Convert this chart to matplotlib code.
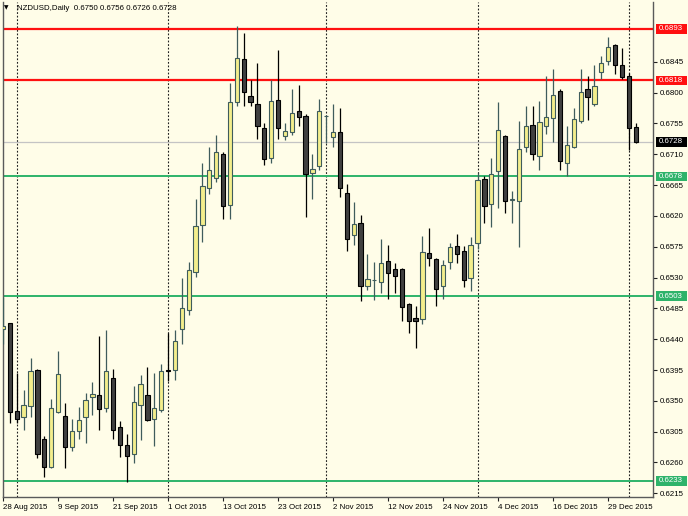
import matplotlib
matplotlib.use('Agg')
import matplotlib.pyplot as plt
from matplotlib.patches import Rectangle

# ---------------- data ----------------
opens = [0.6455, 0.6463, 0.6335, 0.6326, 0.6343, 0.6395, 0.6295, 0.6253, 0.6333, 0.6328,
         0.6283, 0.6306, 0.6327, 0.6356, 0.6358, 0.6339, 0.6383, 0.6312, 0.6286, 0.6273,
         0.6344, 0.6358, 0.6323, 0.6336, 0.6395, 0.6395, 0.6455, 0.6482, 0.6538, 0.6607,
         0.6661, 0.6675, 0.6711, 0.6636, 0.6786, 0.6849, 0.6795, 0.6784, 0.6749, 0.6704,
         0.6790, 0.6737, 0.6743, 0.6773, 0.6766, 0.6682, 0.6693, 0.6766, 0.6736, 0.6743,
         0.6653, 0.6592, 0.6609, 0.6517, 0.6526, 0.6523, 0.6554, 0.6542, 0.6543, 0.6491,
         0.6471, 0.6469, 0.6566, 0.6557, 0.6517, 0.6553, 0.6576, 0.6569, 0.6529, 0.6580,
         0.6674, 0.6637, 0.6686, 0.6737, 0.6644, 0.6642, 0.6721, 0.6753, 0.6708, 0.6752,
         0.6763, 0.6803, 0.6697, 0.6720, 0.6759, 0.6805, 0.6784, 0.6830, 0.6846, 0.6869,
         0.6841, 0.6825, 0.6750]
highs = [0.6502, 0.6464, 0.6390, 0.6366, 0.6412, 0.6397, 0.6299, 0.6352, 0.6423, 0.6347,
         0.6323, 0.6341, 0.6361, 0.6377, 0.6444, 0.6453, 0.6397, 0.6320, 0.6302, 0.6372,
         0.6388, 0.6400, 0.6390, 0.6404, 0.6449, 0.6453, 0.6529, 0.6553, 0.6645, 0.6697,
         0.6721, 0.6738, 0.6714, 0.6814, 0.6897, 0.6887, 0.6819, 0.6844, 0.6756, 0.6818,
         0.6863, 0.6756, 0.6805, 0.6811, 0.6769, 0.6711, 0.6791, 0.6767, 0.6784, 0.6777,
         0.6666, 0.6640, 0.6622, 0.6564, 0.6553, 0.6586, 0.6578, 0.6551, 0.6544, 0.6493,
         0.6488, 0.6590, 0.6603, 0.6558, 0.6555, 0.6581, 0.6594, 0.6576, 0.6589, 0.6683,
         0.6679, 0.6704, 0.6787, 0.6738, 0.6656, 0.6759, 0.6781, 0.6781, 0.6788, 0.6825,
         0.6835, 0.6805, 0.6752, 0.6778, 0.6834, 0.6825, 0.6841, 0.6853, 0.6882, 0.6871,
         0.6865, 0.6828, 0.6756]
lows = [0.6433, 0.6318, 0.6317, 0.6307, 0.6327, 0.6266, 0.6239, 0.6252, 0.6332, 0.6252,
        0.6277, 0.6294, 0.6289, 0.6329, 0.6307, 0.6334, 0.6295, 0.6268, 0.6232, 0.6259,
        0.6293, 0.6320, 0.6284, 0.6334, 0.6379, 0.6380, 0.6433, 0.6475, 0.6531, 0.6582,
        0.6652, 0.6670, 0.6616, 0.6616, 0.6781, 0.6781, 0.6781, 0.6733, 0.6694, 0.6697,
        0.6732, 0.6731, 0.6738, 0.6751, 0.6619, 0.6645, 0.6687, 0.6727, 0.6721, 0.6648,
        0.6569, 0.6577, 0.6496, 0.6512, 0.6497, 0.6508, 0.6498, 0.6507, 0.6466, 0.6449,
        0.6427, 0.6462, 0.6547, 0.6489, 0.6499, 0.6543, 0.6551, 0.6516, 0.6510, 0.6572,
        0.6610, 0.6604, 0.6631, 0.6625, 0.6610, 0.6575, 0.6714, 0.6702, 0.6687, 0.6739,
        0.6728, 0.6687, 0.6679, 0.6719, 0.6755, 0.6760, 0.6781, 0.6820, 0.6841, 0.6827,
        0.6820, 0.6717, 0.6726]
closes = [0.6459, 0.6333, 0.6324, 0.6344, 0.6394, 0.6272, 0.6254, 0.6339, 0.6389, 0.6283,
          0.6306, 0.6322, 0.6351, 0.6360, 0.6338, 0.6393, 0.6308, 0.6285, 0.6269, 0.6348,
          0.6375, 0.6322, 0.6340, 0.6393, 0.6394, 0.6438, 0.6485, 0.6541, 0.6606, 0.6664,
          0.6687, 0.6713, 0.6635, 0.6787, 0.6851, 0.6801, 0.6787, 0.6751, 0.6703, 0.6788,
          0.6748, 0.6744, 0.6771, 0.6765, 0.6681, 0.6689, 0.6773, 0.6766, 0.6742, 0.6661,
          0.6587, 0.6608, 0.6518, 0.6528, 0.6526, 0.6552, 0.6537, 0.6532, 0.6487, 0.6467,
          0.6466, 0.6567, 0.6559, 0.6514, 0.6549, 0.6575, 0.6565, 0.6526, 0.6578, 0.6672,
          0.6635, 0.6681, 0.6745, 0.6642, 0.6645, 0.6718, 0.6752, 0.6711, 0.6757, 0.6765,
          0.6796, 0.6700, 0.6723, 0.6762, 0.6801, 0.6793, 0.6810, 0.6843, 0.6867, 0.6840,
          0.6823, 0.6749, 0.6728]

x_tick_bars = [0, 8, 16, 24, 32, 40, 48, 56, 64, 72, 80, 88]
x_tick_labels = ['28 Aug 2015', '9 Sep 2015', '21 Sep 2015', '1 Oct 2015', '13 Oct 2015',
                 '23 Oct 2015', '2 Nov 2015', '12 Nov 2015', '24 Nov 2015', '4 Dec 2015',
                 '16 Dec 2015', '29 Dec 2015']
y_ticks = [0.6845, 0.6800, 0.6755, 0.6710, 0.6665, 0.6620, 0.6575, 0.6530, 0.6485,
           0.6440, 0.6395, 0.6350, 0.6305, 0.6260, 0.6215]
separator_bars = [2, 24, 47, 69, 91]
red_levels = [0.6893, 0.6818]
green_levels = [0.6678, 0.6503, 0.6233]
last_price = 0.6728
title_text = 'NZDUSD,Daily  0.6750 0.6756 0.6726 0.6728'

# ---------------- styling ----------------
BG = '#FFFDE8'
BULL_FILL = '#F3EE8C'
BULL_EDGE = '#3F5C5C'
BEAR_FILL = '#404040'
BEAR_EDGE = '#000000'
RED = '#FF1010'
GREEN = '#2EB36A'
FONT = 'Liberation Sans'
FS = 5.7

W, H = 688, 516
fig = plt.figure(figsize=(W / 100, H / 100), dpi=100, facecolor=BG)
ax = fig.add_axes([3 / W, 19 / H, 650 / W, 495 / H])
ax.set_facecolor(BG)
ax.set_xlim(0.044, 94.52)
ax.set_ylim(0.62096, 0.69324)

# separators
for b in separator_bars:
    ax.axvline(b, color='#202020', lw=0.8, ls=(0, (1.6, 1.6)), zorder=1)

# horizontal levels
ax.axhline(last_price, color='#C4C4C4', lw=0.9, zorder=1)
for lv in red_levels:
    ax.axhline(lv, color=RED, lw=1.6, zorder=2)
for lv in green_levels:
    ax.axhline(lv, color=GREEN, lw=1.4, zorder=2)

# candles
idx = list(range(len(opens)))
for i, o, h, l, c in zip(idx, opens, highs, lows, closes):
    bull = c >= o
    wick_col = BULL_EDGE if bull else BEAR_EDGE
    ax.vlines(i, l, h, color=wick_col, lw=0.9, zorder=3)
    bottom = min(o, c)
    height = abs(c - o)
    ax.bar(i, height, bottom=bottom, width=0.62,
           color=BULL_FILL if bull else BEAR_FILL,
           edgecolor=wick_col, linewidth=0.8, zorder=4)

# axes frame
for s in ['top']:
    ax.spines[s].set_visible(False)
for s in ['left', 'bottom', 'right']:
    ax.spines[s].set_color('#5A5A5A')
    ax.spines[s].set_linewidth(1.0)

ax.yaxis.tick_right()
ax.set_yticks(y_ticks)
ax.set_yticklabels([f'{v:.4f}' for v in y_ticks], fontsize=FS, family=FONT)
ax.tick_params(axis='y', direction='out', length=3, width=0.8, color='#202020', pad=2)

ax.set_xticks(x_tick_bars)
ax.set_xticklabels(x_tick_labels, fontsize=FS, family=FONT)
for t in ax.get_xticklabels():
    t.set_horizontalalignment('left')
ax.tick_params(axis='x', direction='out', length=3, width=0.8, color='#202020', pad=2)

# price boxes on the right axis
def box(level, color):
    ypix = ax.transData.transform((0, level))[1]
    fig.patches.append(Rectangle((656 / W, (ypix - 4.6) / H), 31 / W, 9.2 / H,
                                 transform=fig.transFigure, facecolor=color,
                                 edgecolor='none', zorder=5))
    fig.text(659 / W, ypix / H, f'{level:.4f}', color='white', fontsize=FS,
             family=FONT, va='center', ha='left', zorder=6)

for lv in red_levels:
    box(lv, RED)
for lv in green_levels:
    box(lv, GREEN)
box(last_price, '#000000')

# title
fig.text(4 / W, 1 - 8 / H, '\u25BC', fontsize=4.2, family='DejaVu Sans',
         va='center', ha='left', color='black')
fig.text(17 / W, 1 - 8 / H, title_text, fontsize=FS, family=FONT,
         va='center', ha='left', color='black')

fig.savefig('out.png', dpi=100, facecolor=BG)
